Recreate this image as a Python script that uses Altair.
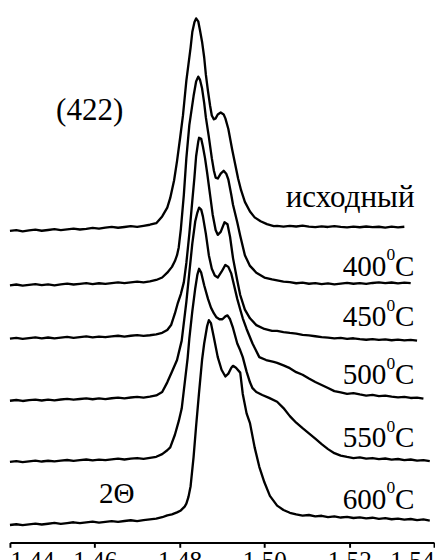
import altair as alt
import pandas as pd

# ---- shared baseline x grids (axis units) ----
x_left = [1.4400, 1.4415, 1.4430, 1.4445, 1.4460, 1.4475, 1.4490, 1.4505, 1.4520, 1.4535,
          1.4550, 1.4565, 1.4580, 1.4595, 1.4610, 1.4625, 1.4640, 1.4655, 1.4670, 1.4685,
          1.4700, 1.4715, 1.4730, 1.4745]
x_right = [1.5030, 1.5045, 1.5060, 1.5075, 1.5090, 1.5105, 1.5120, 1.5135, 1.5150, 1.5165,
           1.5180, 1.5195, 1.5210, 1.5225, 1.5240, 1.5255, 1.5270, 1.5285, 1.5300, 1.5315,
           1.5330, 1.5345, 1.5360, 1.5375, 1.5390]

# ---- исходный ----
y1_left = [321.0, 321.8, 320.6, 321.5, 322.3, 321.2, 322.0, 322.8, 321.9, 322.6, 323.4, 322.5,
           323.2, 324.1, 323.3, 324.4, 325.2, 324.3, 325.1, 326.0, 325.2, 326.3, 327.4, 329.0]
x1_peak = [1.4759, 1.4771, 1.4778, 1.4787, 1.4794, 1.4801, 1.4808, 1.4812, 1.4816, 1.4821,
           1.4826, 1.4830, 1.4835, 1.4839, 1.4844, 1.4848, 1.4853, 1.4858, 1.4862, 1.4867,
           1.4872, 1.4876, 1.4881, 1.4885, 1.4890, 1.4897, 1.4904, 1.4908, 1.4915, 1.4924,
           1.4931, 1.4938, 1.4945, 1.4954, 1.4966, 1.4977, 1.4991, 1.5006, 1.5022]
y1_peak = [336, 345, 355, 373, 393, 416, 440, 458, 476, 493, 510, 526, 536, 540, 537, 528, 516,
           500, 482, 465, 450, 440, 436, 437, 441, 443, 441, 437, 426, 405, 390, 375, 363, 351,
           341, 335, 331, 328, 326]
y1_right = [326.2, 325.4, 326.3, 325.6, 326.4, 325.5, 324.9, 325.8, 325.1, 326.0, 325.2, 324.6,
            325.5, 324.8, 325.6, 324.9, 325.3, 324.5, 325.4, 324.7, 325.3]

# ---- 400 C ----
y2_left = [265.0, 265.8, 264.7, 265.5, 266.2, 265.1, 265.9, 265.0, 266.0, 266.7, 265.8, 266.5,
           267.2, 266.3, 267.1, 266.4, 267.3, 268.0, 267.2, 268.1, 268.7, 268.0, 269.0, 270.5]
x2_peak = [1.4759, 1.4771, 1.4782, 1.4789, 1.4794, 1.4798, 1.4803, 1.4810, 1.4816, 1.4823,
           1.4833, 1.4839, 1.4844, 1.4848, 1.4853, 1.4858, 1.4862, 1.4869, 1.4876, 1.4881,
           1.4885, 1.4890, 1.4897, 1.4904, 1.4910, 1.4915, 1.4922, 1.4926, 1.4936, 1.4943,
           1.4954, 1.4966, 1.4981, 1.5000, 1.5018]
y2_peak = [273, 278, 284, 290, 296, 304, 323, 358, 396, 430, 460, 475, 480, 477, 468, 453, 438,
           418, 396, 383, 376, 375, 380, 383, 380, 374, 358, 348, 330, 316, 296, 285, 278, 273, 271]
y2_right = [270.0, 268.8, 268.2, 267.1, 267.8, 266.6, 267.3, 266.2, 266.9, 266.0, 266.8, 267.5,
            266.6, 267.3, 266.5, 267.4, 268.0, 267.2, 267.9, 267.0, 267.8, 267.2]

# ---- 450 C ----
y3_left = [210.0, 210.8, 209.8, 210.6, 211.3, 210.4, 211.2, 210.3, 211.0, 211.8, 210.9, 211.6,
           212.3, 211.4, 212.2, 211.5, 212.3, 213.0, 212.1, 213.0, 213.6, 212.8, 213.5, 214.5]
x3_peak = [1.4759, 1.4771, 1.4780, 1.4789, 1.4796, 1.4803, 1.4810, 1.4816, 1.4823, 1.4830,
           1.4835, 1.4839, 1.4844, 1.4846, 1.4851, 1.4855, 1.4860, 1.4865, 1.4872, 1.4878,
           1.4885, 1.4890, 1.4897, 1.4906, 1.4913, 1.4919, 1.4926, 1.4936, 1.4943, 1.4954,
           1.4966, 1.4981, 1.5000, 1.5018]
y3_peak = [216, 219, 224, 236, 247, 256, 268, 288, 318, 352, 376, 398, 413, 417, 416, 408, 396,
           381, 358, 338, 322, 317, 320, 330, 328, 315, 293, 270, 255, 240, 231, 224, 220, 218]
y3_right = [218.0, 216.8, 215.9, 215.2, 214.0, 213.4, 212.5, 211.6, 211.0, 210.3, 210.9, 209.8,
            210.4, 209.5, 208.9, 209.6, 208.7, 209.3, 208.4, 209.0, 208.2, 208.8, 208.0]

# ---- 500 C ----
y4_left = [146.0, 146.8, 145.8, 146.6, 147.2, 146.3, 147.1, 146.4, 147.3, 148.0, 147.1, 147.8,
           148.5, 147.6, 148.4, 147.7, 148.6, 149.3, 148.5, 149.4, 150.0, 149.2, 150.2, 151.5]
x4_peak = [1.4759, 1.4771, 1.4782, 1.4794, 1.4805, 1.4816, 1.4823, 1.4830, 1.4837, 1.4842,
           1.4846, 1.4851, 1.4855, 1.4862, 1.4869, 1.4876, 1.4883, 1.4890, 1.4899, 1.4908,
           1.4915, 1.4922, 1.4929, 1.4936, 1.4943, 1.4949, 1.4958, 1.4972, 1.4988, 1.5004, 1.5022]
y4_peak = [155, 165, 176, 188, 208, 248, 278, 308, 331, 340, 345, 343, 336, 318, 296, 282, 275,
           273, 279, 286, 284, 277, 264, 251, 240, 231, 220, 205, 191, 188, 186]
y4_right = [185.0, 182.5, 179.6, 175.5, 172.8, 168.9, 165.4, 162.3, 159.1, 156.0, 154.6, 153.2,
            153.9, 152.5, 151.4, 152.0, 150.8, 151.3, 150.2, 149.5, 150.1, 148.9, 149.3, 148.2]

# ---- 550 C ----
y5_left = [83.0, 83.8, 82.8, 83.6, 84.3, 83.4, 84.2, 83.5, 84.4, 85.0, 84.1, 84.8, 85.5, 84.6,
           85.4, 84.8, 85.6, 86.3, 85.5, 86.4, 87.0, 86.2, 87.2, 88.3]
x5_peak = [1.4759, 1.4771, 1.4778, 1.4789, 1.4798, 1.4805, 1.4812, 1.4819, 1.4823, 1.4830,
           1.4837, 1.4842, 1.4846, 1.4851, 1.4858, 1.4867, 1.4874, 1.4881, 1.4887, 1.4894,
           1.4901, 1.4908, 1.4913, 1.4919, 1.4926, 1.4936, 1.4943, 1.4949, 1.4958, 1.4966,
           1.4972, 1.4981, 1.4995, 1.5011]
y5_peak = [91, 95, 98, 111, 125, 138, 164, 190, 210, 238, 262, 276, 282, 278, 265, 251, 242, 236,
           232, 230, 230, 233, 234, 230, 221, 205, 198, 191, 176, 165, 159, 155, 152, 149]
y5_right = [145.0, 138.5, 130.2, 123.4, 117.8, 112.5, 107.0, 101.3, 96.2, 92.0, 89.4, 88.1, 87.0,
            87.6, 86.4, 87.0, 85.8, 86.5, 85.4, 86.0, 84.9, 85.5, 84.3, 84.9, 83.8]

# ---- 600 C ----
y6_left = [18.0, 18.8, 17.9, 18.7, 19.4, 18.5, 19.3, 20.1, 19.2, 20.0, 20.8, 19.9, 20.7, 21.4,
           20.5, 21.3, 22.0, 21.2, 22.1, 22.9, 22.0, 23.0, 23.8, 24.5]
x6_peak = [1.4759, 1.4771, 1.4782, 1.4794, 1.4803, 1.4812, 1.4816, 1.4821, 1.4826, 1.4833,
           1.4839, 1.4846, 1.4853, 1.4858, 1.4865, 1.4869, 1.4874, 1.4881, 1.4890, 1.4899,
           1.4908, 1.4915, 1.4922, 1.4926, 1.4933, 1.4943, 1.4949, 1.4958, 1.4966, 1.4977,
           1.4988, 1.5000, 1.5013]
y6_peak = [26, 28, 29, 31, 33, 37, 40, 47, 58, 88, 120, 155, 188, 205, 223, 229, 226, 211, 191,
           178, 171, 174, 180, 182, 180, 175, 153, 133, 123, 98, 78, 62, 48]
y6_right = [38.0, 33.5, 30.6, 29.0, 27.6, 28.3, 26.9, 27.5, 26.2, 26.9, 25.7, 26.4, 25.2, 25.9,
            24.8, 25.5, 24.4, 25.0, 23.9, 24.6, 23.5, 24.2, 23.0, 23.7, 22.6]

# ---- labels ----
tick_values = [1.44, 1.46, 1.48, 1.50, 1.52, 1.54]
temp_numbers = ["400", "450", "500", "550", "600"]
temp_label_y = [275, 223, 163, 98, 35]
label_right_x = 1.5354
init_label = "исходный"
init_label_y = 346
hkl_label = "(422)"
hkl_x, hkl_y = 1.4588, 435
axis_label = "2Θ"
axis_label_x, axis_label_y = 1.4652, 41

curves = [
    ("c1", y1_left, x1_peak, y1_peak, y1_right),
    ("c2", y2_left, x2_peak, y2_peak, y2_right),
    ("c3", y3_left, x3_peak, y3_peak, y3_right),
    ("c4", y4_left, x4_peak, y4_peak, y4_right),
    ("c5", y5_left, x5_peak, y5_peak, y5_right),
    ("c6", y6_left, x6_peak, y6_peak, y6_right),
]
rows = []
for name, yl, xp, yp, yr in curves:
    xs = x_left + xp + x_right[:len(yr)]
    ys = yl + yp + yr
    for xv, yv in zip(xs, ys):
        rows.append({"curve": name, "x": xv, "y": yv})
df = pd.DataFrame(rows)

FONT = "serif"
xscale = alt.Scale(domain=[1.44, 1.54], nice=False, zero=False)
yscale = alt.Scale(domain=[0, 540], nice=False, zero=False)

lines = alt.Chart(df).mark_line(color="black", strokeWidth=2.4, strokeJoin="round").encode(
    x=alt.X("x:Q", scale=xscale,
            axis=alt.Axis(values=tick_values, format=".2f", title=None, grid=False,
                          labelFlush=True, domainColor="black", domainWidth=2,
                          tickColor="black", tickWidth=2, tickSize=5,
                          labelFont=FONT, labelFontSize=26, labelColor="black",
                          labelPadding=1)),
    y=alt.Y("y:Q", scale=yscale, axis=None),
    detail="curve:N",
)

X = alt.X("x:Q", scale=xscale)
Y = alt.Y("y:Q", scale=yscale)

tdf = pd.DataFrame({"num": temp_numbers, "y": temp_label_y, "x": [label_right_x] * 5,
                    "c": ["C"] * 5, "sup": ["0"] * 5})
c_text = alt.Chart(tdf).mark_text(font=FONT, fontSize=30, align="right", baseline="alphabetic",
                                  color="black").encode(x=X, y=Y, text="c:N")
sup_text = alt.Chart(tdf).mark_text(font=FONT, fontSize=18, align="right", baseline="alphabetic",
                                    color="black", dx=-20, dy=-16).encode(x=X, y=Y, text="sup:N")
num_text = alt.Chart(tdf).mark_text(font=FONT, fontSize=30, align="right", baseline="alphabetic",
                                    color="black", dx=-29).encode(x=X, y=Y, text="num:N")

odf = pd.DataFrame({"t": [init_label], "x": [label_right_x], "y": [init_label_y]})
init_text = alt.Chart(odf).mark_text(font=FONT, fontSize=32, align="right", baseline="alphabetic",
                                     color="black").encode(x=X, y=Y, text="t:N")

hdf = pd.DataFrame({"t": [hkl_label], "x": [hkl_x], "y": [hkl_y]})
hkl_text = alt.Chart(hdf).mark_text(font=FONT, fontSize=32, align="center",
                                    baseline="alphabetic", color="black").encode(
    x=X, y=Y, text="t:N")
adf = pd.DataFrame({"t": [axis_label], "x": [axis_label_x], "y": [axis_label_y]})
ax_text = alt.Chart(adf).mark_text(font=FONT, fontSize=30, align="center",
                                   baseline="alphabetic", color="black").encode(
    x=X, y=Y, text="t:N")

chart = alt.layer(lines, c_text, sup_text, num_text, init_text, hkl_text, ax_text).properties(
    width=437, height=540, padding=0
).configure_view(stroke=None)

chart.save("out.html", embed_options={"renderer": "svg", "actions": False})
